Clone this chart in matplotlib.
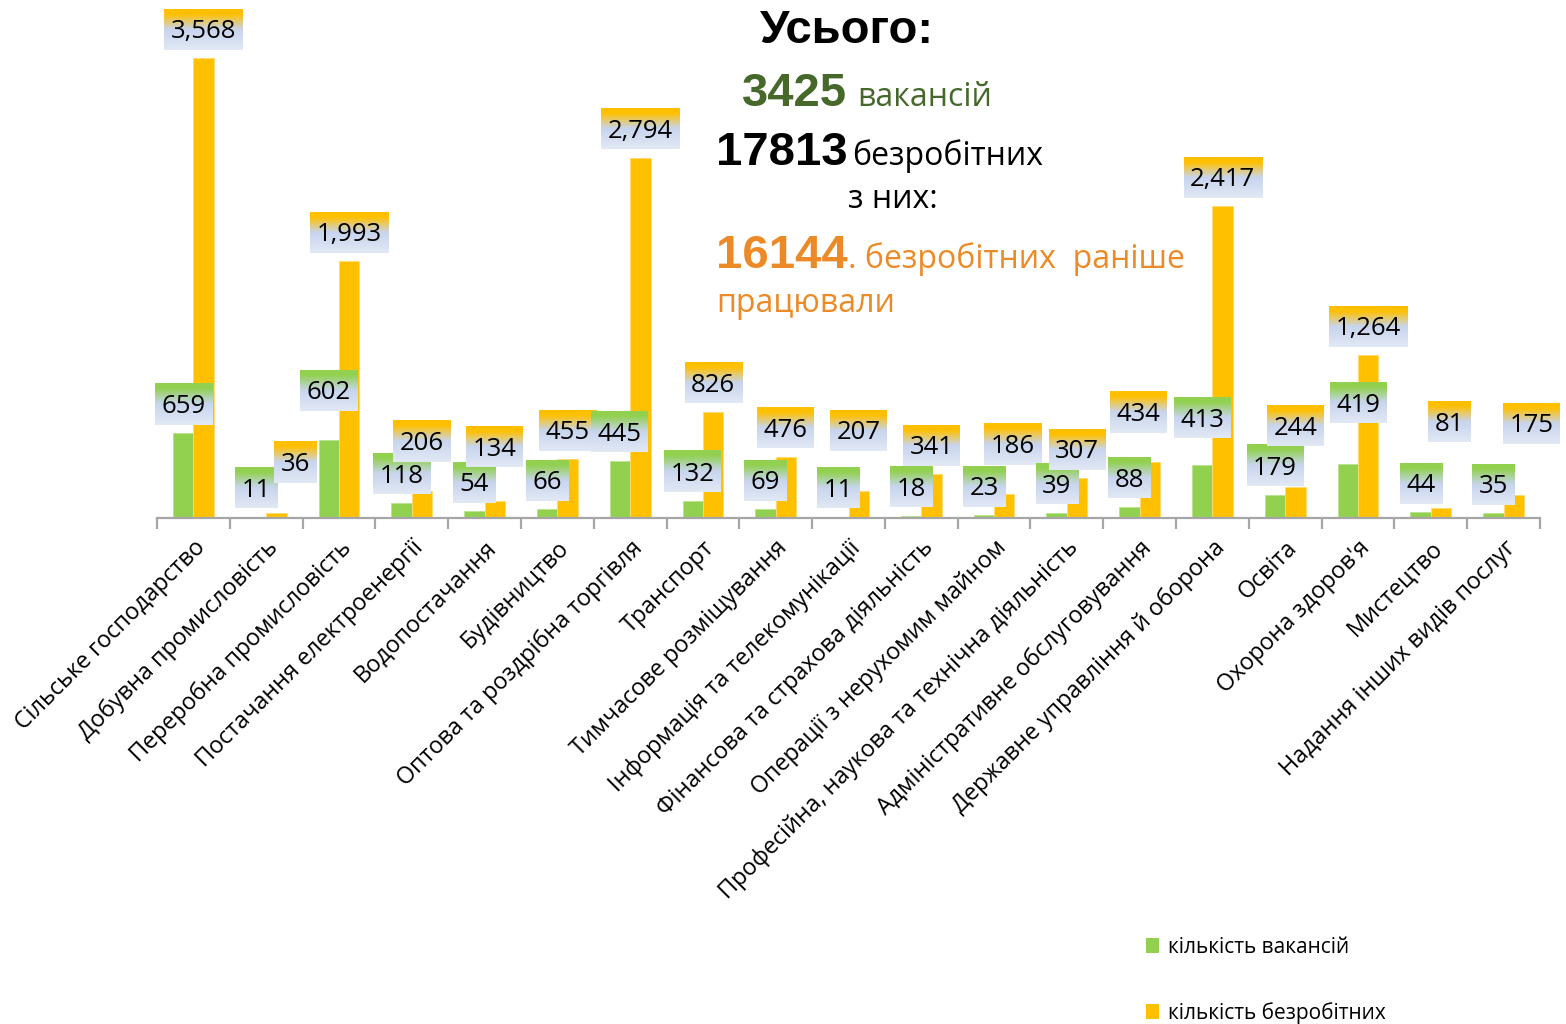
import numpy as np
import matplotlib
matplotlib.use('Agg')
import matplotlib.pyplot as plt
from matplotlib.colors import to_rgb
from matplotlib.patches import Patch

plt.rcParams['font.family'] = ['Open Sans', 'DejaVu Sans']

categories = ['Сільське господарство', 'Добувна промисловість', 'Переробна промисловість',
              'Постачання електроенергії', 'Водопостачання', 'Будівництво',
              'Оптова та роздрібна торгівля', 'Транспорт', 'Тимчасове розміщування',
              'Інформація та телекомунікації', 'Фінансова та страхова діяльність',
              'Операції з нерухомим майном', 'Професійна, наукова та технічна діяльність',
              'Адміністративне обслуговування', 'Державне управління й оборона', 'Освіта',
              "Охорона здоров'я", 'Мистецтво', 'Надання інших видів послуг']
vacancies = [659, 11, 602, 118, 54, 66, 445, 132, 69, 11, 18, 23, 39, 88, 413, 179, 419, 44, 35]
unemployed = [3568, 36, 1993, 206, 134, 455, 2794, 826, 476, 207, 341, 186, 307, 434, 2417, 244, 1264, 81, 175]
series_names = ['кількість вакансій', 'кількість безробітних']

# extra shift of some value labels (px right, px up), the rest sit just above the bar
vac_nudge = {2: (0, 21), 14: (0, 18), 16: (11, 32)}
unemp_nudge = {1: (19, 22), 3: (0, 21), 4: (0, 25), 9: (0, 32), 11: (8, 21),
               13: (-11, 21), 15: (0, 32), 17: (8, 57), 18: (18, 43)}

GREEN = '#92D050'
ORANGE = '#FFC000'
W, H = 1566, 1024

fig = plt.figure(figsize=(W / 100, H / 100), dpi=100)
ax = fig.add_axes([157 / W, 1 - 518 / H, 1383 / W, 518 / H])

x = np.arange(len(categories))
bw = 0.28
ax.bar(x - bw / 2, vacancies, bw, color=GREEN, edgecolor='#B9E38F', linewidth=0.6, zorder=2)
ax.bar(x + bw / 2, unemployed, bw, color=ORANGE, edgecolor='#FFDB70', linewidth=0.6, zorder=2)

ax.set_xlim(-0.5, len(categories) - 0.5)
ax.set_ylim(0, 4018)
ax.set_autoscale_on(False)
for s in ['top', 'right', 'left']:
    ax.spines[s].set_visible(False)
ax.spines['bottom'].set_color('#A6A6A6')
ax.spines['bottom'].set_linewidth(1.6)
ax.set_yticks([])
ax.set_xticks(x)
ax.set_xticklabels(categories, rotation=45, ha='right', rotation_mode='anchor', fontsize=16.8)
ax.set_xticks(np.arange(-0.5, len(categories), 1), minor=True)
ax.tick_params(axis='x', which='major', length=0, pad=13)
ax.tick_params(axis='x', which='minor', length=8, width=1.6, color='#A6A6A6')


def grad(color):
    stops = [0, 0.12, 0.5, 1]
    cols = [to_rgb(color), to_rgb(color), to_rgb('#C8D5EE'), to_rgb('#E2E9F5')]
    t = np.linspace(0, 1, 64)
    rgb = np.array([np.interp(t, stops, [c[k] for c in cols]) for k in range(3)]).T
    return np.repeat(rgb[:, None, :], 2, axis=1)


fig.canvas.draw()
rend = fig.canvas.get_renderer()
inv = ax.transData.inverted()


def put_label(xc, v, color, nudge):
    dx, dy = nudge
    px, py = ax.transData.transform((xc, v))
    cx, cy = px + dx, py + 29 + dy
    tx, ty = inv.transform((cx, cy - 9))
    t = ax.text(tx, ty, f'{v:,}', ha='center', va='baseline', fontsize=18.5,
                zorder=6, clip_on=False)
    w = t.get_window_extent(rend).width + 13
    (x0, y0), (x1, y1) = inv.transform([(cx - w / 2, cy - 20.5), (cx + w / 2, cy + 20.5)])
    ax.imshow(grad(color), extent=[x0, x1, y0, y1], aspect='auto', zorder=5,
              clip_on=False, interpolation='bilinear')


for i in range(len(categories)):
    put_label(x[i] - bw / 2, vacancies[i], GREEN, vac_nudge.get(i, (0, 0)))
    put_label(x[i] + bw / 2, unemployed[i], ORANGE, unemp_nudge.get(i, (0, 0)))


def ftext(px, py, s, **kw):
    fig.text(px / W, 1 - py / H, s, ha='left', va='baseline', **kw)


bold = dict(family='Liberation Sans', fontweight='bold')
ftext(760, 43, 'Усього:', fontsize=34, color='black', **bold)
ftext(742, 106, '3425', fontsize=34, color='#46682B', **bold)
ftext(857, 106, 'вакансій', fontsize=23, color='#46682B')
ftext(716, 165, '17813', fontsize=34, color='black', **bold)
ftext(852, 165, 'безробітних', fontsize=23, color='black')
ftext(848, 208, 'з них:', fontsize=23, color='black')
ftext(716, 268, '16144', fontsize=34, color='#EB8A26', **bold)
ftext(848, 268, '. безробітних  раніше', fontsize=23, color='#EB8A26')
ftext(716, 312, 'працювали', fontsize=23, color='#EB8A26')

handles = [Patch(facecolor=GREEN), Patch(facecolor=ORANGE)]
fig.legend(handles, series_names, loc='upper left', bbox_to_anchor=(1127 / W, 1 - 918 / H),
           frameon=False, fontsize=15, handlelength=0.65, handleheight=0.7,
           handletextpad=0.4, labelspacing=2.12)

fig.savefig('out.png', dpi=100)
